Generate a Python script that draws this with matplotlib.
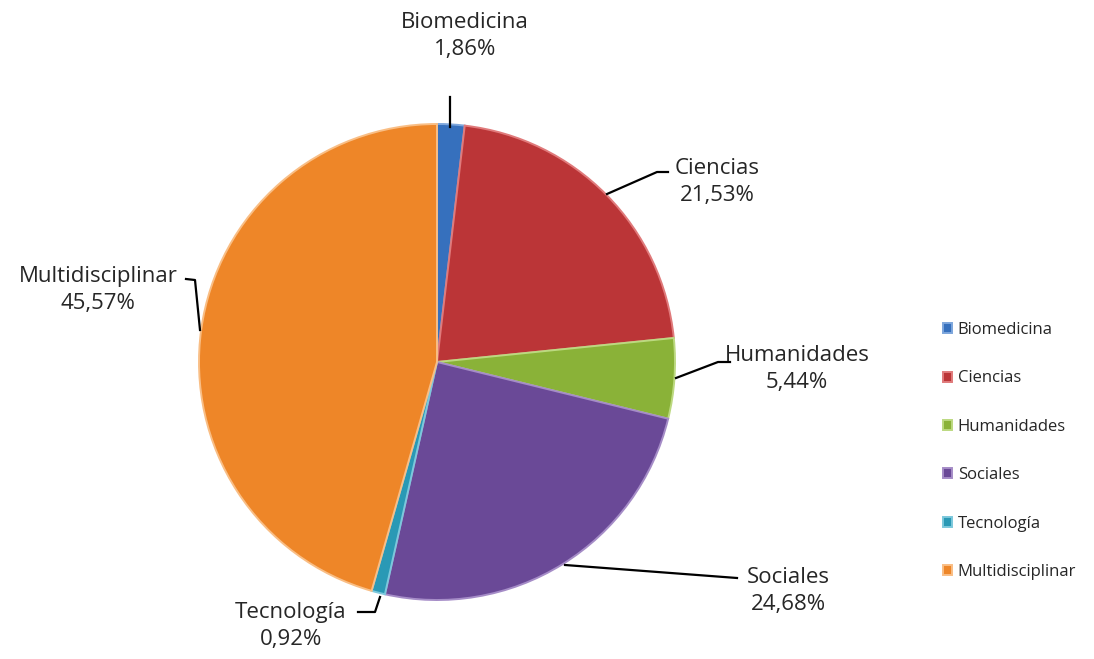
import matplotlib.pyplot as plt

# data
categorias = ['Biomedicina', 'Ciencias', 'Humanidades', 'Sociales', 'Tecnología', 'Multidisciplinar']
porcentajes = [1.86, 21.53, 5.44, 24.68, 0.92, 45.57]
colores = ['#3670bd', '#bb3537', '#8ab238', '#6a4997', '#2a99b5', '#ee8628']
bordes = ['#7da6dc', '#e07a7b', '#bcd980', '#a58cc7', '#7cc8dc', '#f9be85']

plt.rcParams['font.family'] = ['Open Sans', 'DejaVu Sans']

fig = plt.figure(figsize=(10.94, 6.59), dpi=100)
ax = fig.add_axes([0, 0, 1, 1])
H = 659

cx, cy, r = 437, H - 362, 238
wedges, _ = ax.pie(porcentajes, colors=colores, startangle=90, counterclock=False,
                   center=(cx, cy), radius=r, frame=True,
                   wedgeprops=dict(linewidth=1.4))
for w, b in zip(wedges, bordes):
    w.set_edgecolor(b)
ax.set_xlim(0, 1094)
ax.set_ylim(0, H)
ax.set_aspect('equal')
ax.axis('off')

# labels with leader lines (pixel coords from the top)
etiquetas = [
    ((465, 36), [(450, 127), (450, 97)]),
    ((717, 182), [(607, 194), (657, 172), (668, 172)]),
    ((797, 369), [(676, 378), (718, 362), (730, 362)]),
    ((788, 591), [(565, 565), (737, 578)]),
    ((291, 626), [(380, 597), (375, 612), (358, 612)]),
    ((98, 290), [(200, 330), (195, 280), (186, 279)]),
]
for cat, pct, (pos, linea) in zip(categorias, porcentajes, etiquetas):
    xs = [p[0] for p in linea]
    ys = [H - p[1] for p in linea]
    ax.plot(xs, ys, color='black', lw=1.6)
    txt = cat + '\n' + ('%.2f' % pct).replace('.', ',') + '%'
    ax.text(pos[0], H - pos[1], txt, ha='center', va='center', fontsize=16,
            color='#262626', linespacing=1.4)

leg = ax.legend(wedges, categorias, loc='center left', bbox_to_anchor=(936 / 1094, 1 - 451 / H),
                frameon=False, fontsize=12, handlelength=0.55, handleheight=0.55,
                handletextpad=0.35, labelspacing=1.94, borderaxespad=0)
for t in leg.get_texts():
    t.set_color('#262626')

fig.savefig('out.png', dpi=100)
